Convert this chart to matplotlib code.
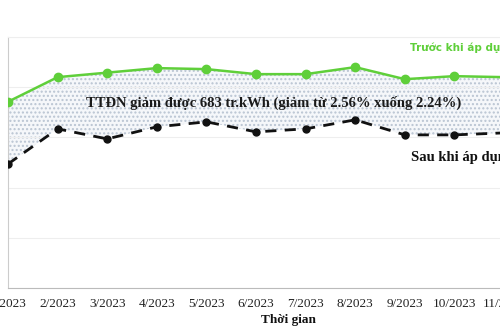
import matplotlib
matplotlib.use("Agg")
import matplotlib.pyplot as plt
import numpy as np

months = ["1/2023", "2/2023", "3/2023", "4/2023", "5/2023", "6/2023",
          "7/2023", "8/2023", "9/2023", "10/2023", "11/2023"]
truoc = [3.71, 4.20, 4.29, 4.38, 4.36, 4.26, 4.26, 4.40, 4.16, 4.22, 4.20]
sau = [2.47, 3.17, 2.97, 3.21, 3.31, 3.11, 3.17, 3.35, 3.05, 3.05, 3.09]

plt.rcParams['hatch.linewidth'] = 1.0
fig = plt.figure(figsize=(5, 3.33), dpi=100)
W, H = 500, 333
left, top, bottom = 8, 37, 288
step = 49.6
ax = fig.add_axes([left / W, (H - bottom) / H, step * 11 / W, (bottom - top) / H])

x = np.arange(len(months))
ax.fill_between(x, sau, truoc, facecolor="#f5f7fa", edgecolor="#b9c4d2",
                hatch="....", linewidth=0, zorder=1)
ax.plot(x, truoc, color="#5fcf3a", lw=1.8, marker="o", ms=6, zorder=3)
ax.plot(x, sau, color="#111111", lw=2.0, ls=(0, (4, 3)), marker="o", ms=5, zorder=3)

ax.set_xlim(0, 11)
ax.set_ylim(0, 5)
ax.set_yticks([0, 1, 2, 3, 4, 5])
ax.set_yticklabels([])
ax.set_xticks(x)
ax.set_xticklabels(months, family="Liberation Serif", fontsize=9.5, color="#222222")
ax.tick_params(length=0, pad=7)
ax.grid(axis="y", color="#eeeeee", lw=0.8)
for s in ["top", "right"]:
    ax.spines[s].set_color("#eeeeee")
ax.spines["left"].set_color("#cccccc")
ax.spines["bottom"].set_color("#bbbbbb")

fig.text(274 / W, 1 - 103 / H, "TTĐN giảm được 683 tr.kWh (giảm từ 2.56% xuống 2.24%)",
         family="Liberation Serif", fontweight="bold", fontsize=10.5,
         ha="center", va="center", color="#1a1a1a")
fig.text(410 / W, 1 - 48 / H, "Trước khi áp dụng", family="DejaVu Sans",
         fontweight="bold", fontsize=7.5, color="#5fcf3a", ha="left", va="center")
fig.text(411 / W, 1 - 158 / H, "Sau khi áp dụng", family="Liberation Serif",
         fontweight="bold", fontsize=10.5, color="#111111", ha="left", va="center")
fig.text(288 / W, 1 - 320 / H, "Thời gian", family="Liberation Serif",
         fontweight="bold", fontsize=9.5, color="#111111", ha="center", va="center")

fig.savefig("out.png", dpi=100)
